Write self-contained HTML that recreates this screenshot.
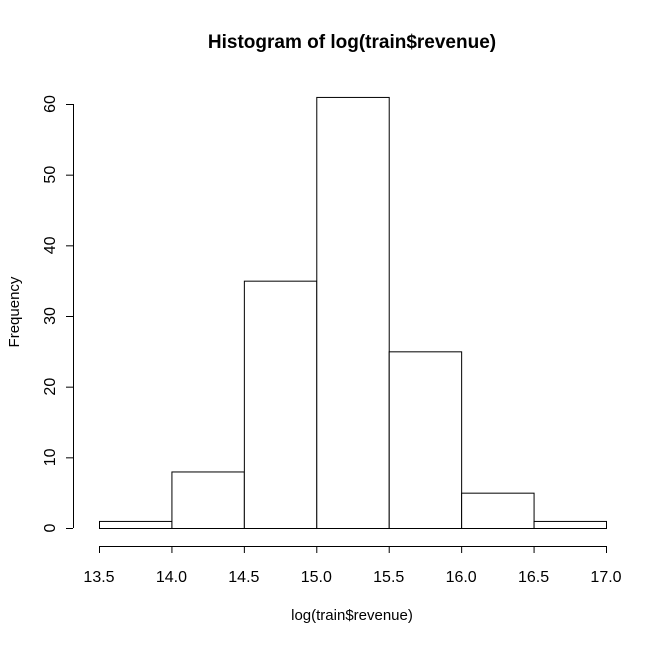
<!DOCTYPE html>
<html><head><meta charset="utf-8"><style>
html,body{margin:0;padding:0;background:#fff;}
svg text{font-family:"Liberation Sans",Arial,sans-serif;fill:#000;}
</style></head><body>
<svg id="chart" width="667" height="644" xmlns="http://www.w3.org/2000/svg">
<text x="352" y="48" text-anchor="middle" font-size="19" font-weight="bold">Histogram of log(train$revenue)</text>
<text x="352" y="620" text-anchor="middle" font-size="15">log(train$revenue)</text>
<text x="19" y="312" text-anchor="middle" font-size="15" transform="rotate(-90 19 312)">Frequency</text>
<g id="bars"></g><g id="xaxis"></g><g id="yaxis"></g>
</svg>
<script>
const binStarts=[13.5,14.0,14.5,15.0,15.5,16.0,16.5];
const counts=[1,8,35,61,25,5,1];
const binWidth=0.5;
const xTicks=[13.5,14.0,14.5,15.0,15.5,16.0,16.5,17.0];
const yTicks=[0,10,20,30,40,50,60];
const NS="http://www.w3.org/2000/svg";
function xs(v){return 99+(v-13.5)*(606-99)/3.5;}
function ys(v){return 528-v*(528-104)/60;}
function mk(t,a,p){const e=document.createElementNS(NS,t);for(const k in a)e.setAttribute(k,a[k]);p.appendChild(e);return e;}
const bars=document.getElementById('bars');
binStarts.forEach((b,i)=>{
 const x0=xs(b),x1=xs(b+binWidth),y=ys(counts[i]);
 const r=mk('rect',{x:x0+0.5,y:y+0.5,width:x1-x0,height:ys(0)-y,fill:'#fff',stroke:'#000','stroke-width':1},bars);
 
 
});
const xa=document.getElementById('xaxis');
const xl=mk('line',{x1:xs(xTicks[0]),x2:xs(xTicks[xTicks.length-1]),y1:546.5,y2:546.5,stroke:'#000'},xa);


xTicks.forEach(t=>{
 mk('line',{x1:xs(t)+0.5,x2:xs(t)+0.5,y1:546,y2:553,stroke:'#000'},xa);
 const tx=mk('text',{x:xs(t),y:582,'text-anchor':'middle','font-size':16},xa);
 tx.textContent=t.toFixed(1);
 
 
});
const ya=document.getElementById('yaxis');
const yl=mk('line',{x1:73.5,x2:73.5,y1:ys(yTicks[0]),y2:ys(yTicks[yTicks.length-1]),stroke:'#000'},ya);


yTicks.forEach(t=>{
 mk('line',{x1:66,x2:73,y1:ys(t)+0.5,y2:ys(t)+0.5,stroke:'#000'},ya);
 const tx=mk('text',{x:55,y:ys(t),'text-anchor':'middle','font-size':16,transform:'rotate(-90 55 '+ys(t)+')'},ya);
 tx.textContent=t;
 
 
});
</script>
</body></html>
